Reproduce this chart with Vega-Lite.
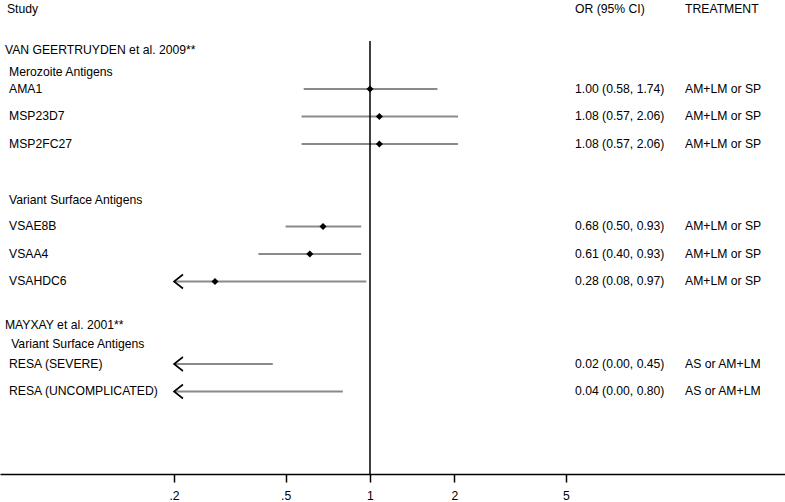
{
  "$schema": "https://vega.github.io/schema/vega-lite/v6.json",
  "width": 785,
  "height": 474,
  "autosize": {"type": "none"},
  "padding": {"left": 0, "top": 0, "right": 0, "bottom": 28},
  "background": "white",
  "config": {
    "view": {"stroke": null},
    "font": "Liberation Sans",
    "text": {"font": "Liberation Sans", "fontSize": 12.2, "color": "black", "baseline": "middle", "align": "left"}
  },
  "datasets": {
    "rows": [
      {"label": "AMA1", "r": 0, "or": 1.00, "lo": 0.58, "hi": 1.74, "ci": "1.00 (0.58, 1.74)", "trt": "AM+LM or SP"},
      {"label": "MSP23D7", "r": 1, "or": 1.08, "lo": 0.57, "hi": 2.06, "ci": "1.08 (0.57, 2.06)", "trt": "AM+LM or SP"},
      {"label": "MSP2FC27", "r": 2, "or": 1.08, "lo": 0.57, "hi": 2.06, "ci": "1.08 (0.57, 2.06)", "trt": "AM+LM or SP"},
      {"label": "VSAE8B", "r": 5, "or": 0.68, "lo": 0.50, "hi": 0.93, "ci": "0.68 (0.50, 0.93)", "trt": "AM+LM or SP"},
      {"label": "VSAA4", "r": 6, "or": 0.61, "lo": 0.40, "hi": 0.93, "ci": "0.61 (0.40, 0.93)", "trt": "AM+LM or SP"},
      {"label": "VSAHDC6", "r": 7, "or": 0.28, "lo": 0.08, "hi": 0.97, "ci": "0.28 (0.08, 0.97)", "trt": "AM+LM or SP"},
      {"label": "RESA (SEVERE)", "r": 10, "or": 0.02, "lo": 0.00, "hi": 0.45, "ci": "0.02 (0.00, 0.45)", "trt": "AS or AM+LM"},
      {"label": "RESA (UNCOMPLICATED)", "r": 11, "or": 0.04, "lo": 0.00, "hi": 0.80, "ci": "0.04 (0.00, 0.80)", "trt": "AS or AM+LM"}
    ],
    "heads": [
      {"text": "Study", "r": -2.9, "col": "study"},
      {"text": "OR (95% CI)", "r": -2.9, "col": "or"},
      {"text": "TREATMENT", "r": -2.9, "col": "trt"},
      {"text": "VAN GEERTRUYDEN et al. 2009**", "r": -1.42, "col": "top"},
      {"text": "Merozoite Antigens", "r": -0.62, "col": "sub"},
      {"text": "Variant Surface Antigens", "r": 4.03, "col": "sub"},
      {"text": "MAYXAY et al. 2001**", "r": 8.58, "col": "top"},
      {"text": "Variant Surface Antigens", "r": 9.27, "col": "sub2"}
    ]
  },
  "encoding": {
    "y": {"field": "r", "type": "quantitative", "scale": {"domain": [-3.236, 14], "reverse": true, "nice": false, "zero": false}, "axis": null}
  },
  "layer": [
    {
      "data": {"name": "rows"},
      "transform": [{"calculate": "max(datum.lo, 0.2)", "as": "lo_c"}],
      "mark": {"type": "rule", "color": "#8a8a8a", "strokeWidth": 2},
      "encoding": {
        "x": {"field": "lo_c", "type": "quantitative",
          "scale": {"type": "log", "domain": [0.04791, 30.2], "nice": false},
          "axis": {"values": [0.2, 0.5, 1, 2, 5], "title": null, "grid": false,
            "labelExpr": "datum.value == 0.2 ? '.2' : datum.value == 0.5 ? '.5' : datum.label",
            "domainColor": "black", "domainWidth": 1.5, "tickColor": "black", "tickWidth": 1.5, "tickSize": 8,
            "labelFont": "Liberation Sans", "labelFontSize": 12.2, "labelColor": "black", "labelPadding": 7, "labelFlush": false}},
        "x2": {"field": "hi"}
      }
    },
    {
      "data": {"values": [{"r": -1.745, "r2": 14}]},
      "mark": {"type": "rule", "color": "black", "strokeWidth": 1.5},
      "encoding": {"x": {"datum": 1}, "y2": {"field": "r2"}}
    },
    {
      "data": {"name": "rows"},
      "transform": [{"filter": "datum.or >= 0.2"}],
      "mark": {"type": "point", "shape": "diamond", "filled": true, "color": "black", "size": 50, "opacity": 1},
      "encoding": {"x": {"field": "or", "type": "quantitative"}}
    },
    {
      "data": {"name": "rows"},
      "transform": [{"filter": "datum.lo < 0.2"}],
      "mark": {"type": "point", "shape": "M1.28,-1L0,0L1.28,1", "filled": false, "stroke": "black", "strokeWidth": 1.6, "size": 196, "opacity": 1},
      "encoding": {"x": {"datum": 0.2}}
    },
    {
      "data": {"name": "rows"},
      "mark": {"type": "text"},
      "encoding": {"x": {"datum": 0.0516}, "text": {"field": "label"}}
    },
    {
      "data": {"name": "rows"},
      "mark": {"type": "text"},
      "encoding": {"x": {"datum": 5.383}, "text": {"field": "ci"}}
    },
    {
      "data": {"name": "rows"},
      "mark": {"type": "text"},
      "encoding": {"x": {"datum": 13.29}, "text": {"field": "trt"}}
    },
    {
      "data": {"name": "heads"},
      "transform": [{"filter": "datum.col == 'study'"}],
      "mark": {"type": "text"},
      "encoding": {"x": {"datum": 0.0507}, "text": {"field": "text"}}
    },
    {
      "data": {"name": "heads"},
      "transform": [{"filter": "datum.col == 'or'"}],
      "mark": {"type": "text"},
      "encoding": {"x": {"datum": 5.383}, "text": {"field": "text"}}
    },
    {
      "data": {"name": "heads"},
      "transform": [{"filter": "datum.col == 'trt'"}],
      "mark": {"type": "text"},
      "encoding": {"x": {"datum": 13.29}, "text": {"field": "text"}}
    },
    {
      "data": {"name": "heads"},
      "transform": [{"filter": "datum.col == 'top'"}],
      "mark": {"type": "text"},
      "encoding": {"x": {"datum": 0.0499}, "text": {"field": "text"}}
    },
    {
      "data": {"name": "heads"},
      "transform": [{"filter": "datum.col == 'sub'"}],
      "mark": {"type": "text"},
      "encoding": {"x": {"datum": 0.0516}, "text": {"field": "text"}}
    },
    {
      "data": {"name": "heads"},
      "transform": [{"filter": "datum.col == 'sub2'"}],
      "mark": {"type": "text"},
      "encoding": {"x": {"datum": 0.0525}, "text": {"field": "text"}}
    }
  ]
}
